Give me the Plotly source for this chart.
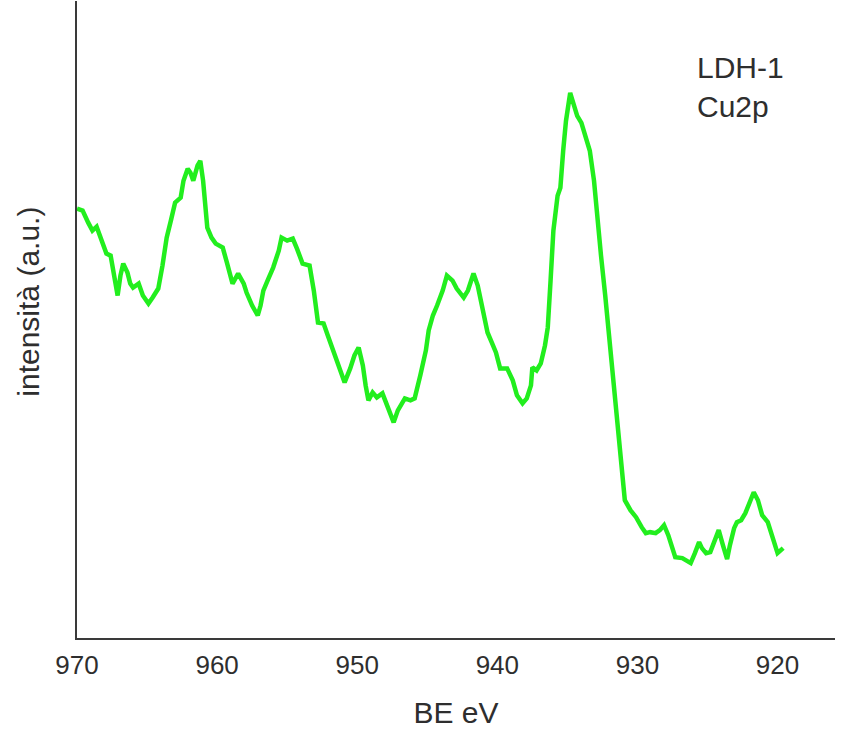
import plotly.graph_objects as go

be_ev = [970.0, 969.6, 969.2, 968.9, 968.6, 968.2, 967.9, 967.6, 967.4, 967.1,
         966.9, 966.7, 966.4, 966.2, 966.0, 965.6, 965.3, 964.9, 964.6, 964.2,
         963.9, 963.6, 963.3, 963.0, 962.6, 962.4, 962.1, 961.9, 961.7, 961.4,
         961.2, 961.0, 960.7, 960.4, 960.1, 959.6, 959.3, 958.9, 958.7, 958.5,
         958.1, 957.9, 957.5, 957.1, 956.9, 956.7, 956.4, 956.0, 955.6, 955.4,
         955.0, 954.6, 954.3, 953.9, 953.4, 953.1, 952.8, 952.4, 952.1, 951.7,
         951.3, 950.9, 950.5, 950.2, 949.9, 949.6, 949.4, 949.2, 948.9, 948.6,
         948.2, 947.9, 947.4, 947.1, 946.6, 946.2, 945.9, 945.5, 945.1, 944.9,
         944.6, 944.3, 943.9, 943.6, 943.2, 942.9, 942.4, 942.1, 941.7, 941.4,
         941.1, 940.7, 940.4, 940.1, 939.8, 939.3, 938.9, 938.6, 938.2, 937.9,
         937.6, 937.5, 937.2, 936.9, 936.6, 936.4, 936.2, 936.0, 935.7, 935.5,
         935.3, 935.1, 934.8, 934.5, 934.3, 934.0, 933.7, 933.4, 933.1, 932.9,
         932.6, 932.3, 932.0, 931.7, 931.4, 931.1, 930.9, 930.5, 930.1, 929.7,
         929.4, 929.1, 928.7, 928.4, 928.1, 927.8, 927.6, 927.3, 926.8, 926.5,
         926.2, 925.9, 925.6, 925.4, 925.1, 924.8, 924.5, 924.2, 923.9, 923.6,
         923.4, 923.1, 922.9, 922.6, 922.3, 922.0, 921.7, 921.4, 921.1, 920.7,
         920.4, 920.0, 919.6]

intensity = [430, 428, 416, 408, 412, 398, 385, 383, 366, 343,
             363, 375, 366, 355, 351, 355, 343, 335, 341, 350,
             373, 401, 418, 436, 441, 458, 470, 466, 458, 473,
             478, 458, 411, 401, 395, 391, 376, 355, 360, 365,
             355, 346, 333, 323, 333, 348, 358, 371, 388, 401,
             398, 400, 390, 375, 373, 348, 316, 315, 303, 288,
             273, 256, 270, 283, 291, 273, 253, 238, 246, 241,
             245, 233, 216, 228, 240, 238, 240, 263, 288, 308,
             323, 333, 348, 363, 358, 350, 341, 348, 365, 353,
             333, 306, 296, 286, 270, 270, 258, 243, 235, 240,
             253, 271, 268, 275, 293, 311, 358, 408, 443, 451,
             488, 518, 546, 533, 523, 516, 503, 488, 458, 423,
             383, 343, 301, 258, 218, 176, 138, 128, 121, 111,
             105, 106, 105, 108, 113, 103, 93, 81, 80, 77,
             75, 85, 96, 90, 85, 86, 96, 108, 93, 79,
             93, 110, 116, 118, 125, 135, 146, 138, 123, 116,
             101, 85, 90]

tick_vals = [970, 960, 950, 940, 930, 920]
tick_text = ["970", "960", "950", "940", "930", "920"]

x_title = "BE eV"
y_title = "intensità (a.u.)"
sample_label = "LDH-1<br>Cu2p"

TEXT = "#2e2e2e"
FONT = "Liberation Sans, Arial, sans-serif"

fig = go.Figure()
fig.add_trace(go.Scatter(
    x=be_ev, y=intensity, mode="lines",
    line=dict(color="#22EE1E", width=4.5),
    hoverinfo="x+y", showlegend=False,
))

fig.update_layout(
    width=844, height=729,
    margin=dict(l=77, r=9, t=1, b=91, autoexpand=False),
    paper_bgcolor="white", plot_bgcolor="white",
    font=dict(family=FONT, color=TEXT),
    xaxis=dict(
        range=[970, 915.9], tickvals=tick_vals, ticktext=tick_text,
        showgrid=False, zeroline=False, showline=True, linecolor="#3a3a3a", linewidth=2,
        ticks="", tickfont=dict(size=26, color=TEXT), automargin=False,
        ticklabelstandoff=3,
        title=dict(text=x_title, font=dict(size=30, color=TEXT), standoff=24),
    ),
    yaxis=dict(
        range=[0, 638], showticklabels=False, showgrid=False, zeroline=False,
        showline=True, linecolor="#3a3a3a", linewidth=2, ticks="", automargin=False,
    ),
    annotations=[
        dict(x=-0.0633, y=0.528, xref="paper", yref="paper",
             xanchor="center", yanchor="middle", textangle=-90,
             text=y_title, showarrow=False, font=dict(size=30, color=TEXT)),
        dict(x=0.815, y=0.925, xref="paper", yref="paper",
             xanchor="left", yanchor="top", text=sample_label, align="left",
             showarrow=False, font=dict(size=30, color=TEXT)),
    ],
)

fig.write_html("out.html", config={"displayModeBar": False},
               post_script="document.body.style.margin='0';")
